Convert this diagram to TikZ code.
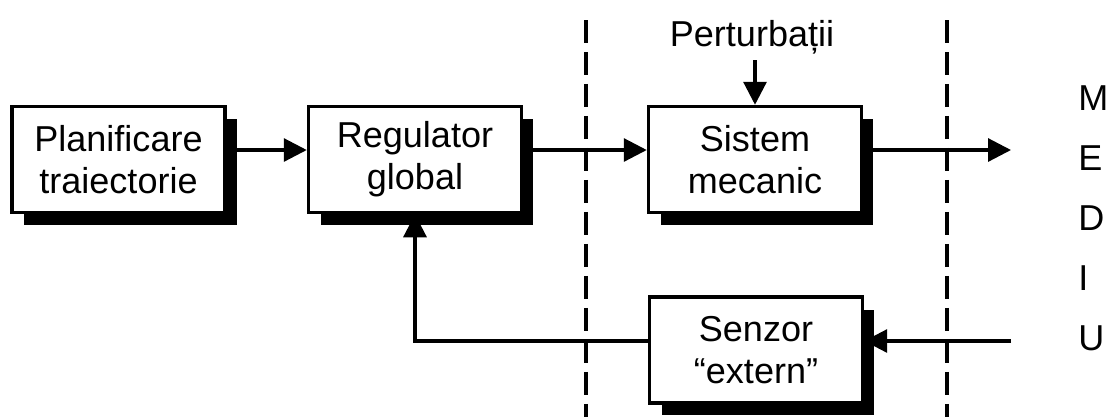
\documentclass[tikz,border=0pt]{standalone}
\usepackage{fontspec}
\setmainfont{Liberation Sans}
\usetikzlibrary{arrows.meta,shadows}
\begin{document}
\begin{tikzpicture}[x=0.02cm,y=-0.02cm,
    txt/.style={font=\fontsize{20.5}{24}\selectfont},
    bloc/.style={txt,draw,line width=2pt,fill=white,align=center,
      minimum width=4.26cm,minimum height=2.12cm,inner sep=0pt,
      drop shadow={shadow xshift=0.24cm,shadow yshift=-0.25cm,fill=black,opacity=1}},
    sag/.style={line width=1.8pt,-{Triangle[length=0.46cm,width=0.46cm]}},
    granita/.style={line width=1.8pt,dash pattern=on 0.46cm off 0.18cm}]
  \useasboundingbox (0,0) rectangle (1106,417);
  \draw[granita] (586,20) -- (586,417);
  \draw[granita] (947,20) -- (947,417);
  \node[bloc] (plan) at (118.5,159.5) {Planificare\\traiectorie};
  \node[bloc] (reg) at (415,159.5) {Regulator\\global};
  \node[bloc] (sis) at (755,159.5) {Sistem\\mecanic};
  \node[bloc] (sen) at (756,350) {Senzor\\``extern''};
  \node[txt,anchor=south] (pert) at (752,60) {Perturbații};
  \coordinate (iesire) at (1011,150);
  \coordinate (intrare) at (1011,341);
  \draw[sag] ([yshift=0.19cm]plan.east) -- ([yshift=0.19cm]reg.west);
  \draw[sag] ([yshift=0.19cm]reg.east) -- ([yshift=0.19cm]sis.west);
  \draw[sag] (sis.east |- iesire) -- (iesire);
  \draw[sag] (pert.south -| sis.north) -- (sis.north);
  \draw[sag] (intrare) -- (sen.east |- intrare);
  \draw[sag] (sen.west |- intrare) -| (reg.south);
  \foreach \lit/\yy in {M/98,E/158,D/218,I/278,U/338}
    \node[txt,anchor=west,inner sep=0pt] (l\lit) at (1078,\yy) {\lit};
\end{tikzpicture}
\end{document}
